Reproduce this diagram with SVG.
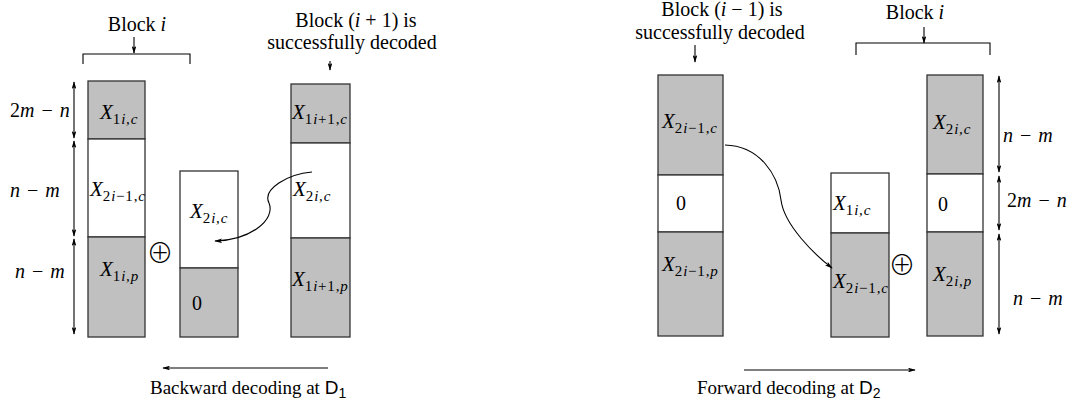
<svg xmlns="http://www.w3.org/2000/svg" width="1081" height="406" viewBox="0 0 1081 406">
<defs>
<marker id="ah" viewBox="0 0 10 6" refX="9" refY="3" markerWidth="8" markerHeight="4.8" markerUnits="userSpaceOnUse" orient="auto-start-reverse">
<path d="M0,0 L10,3 L0,6 L2.5,3 z" fill="#000"/>
</marker>
</defs>
<style>
text{font-family:"Liberation Serif","Times New Roman",serif;fill:#000}
.t{font-size:20px}
.c{font-size:19px}
.m{font-size:21px;font-style:italic}
.u{font-style:normal}
.s{font-size:15px;letter-spacing:0.8px}
.g{fill:#c0c0c0;stroke:#333;stroke-width:1.3}
.w{fill:#fff;stroke:#333;stroke-width:1.3}
.ln{fill:none;stroke:#000;stroke-width:1.1}
.ar{fill:none;stroke:#000;stroke-width:1.1;marker-end:url(#ah);marker-start:url(#ah)}
.a1{fill:none;stroke:#000;stroke-width:1.1;marker-end:url(#ah)}
.sf{font-family:"Liberation Sans",Arial,sans-serif}
.ss{font-size:14px}
.op{font-family:"Noto Sans CJK SC","DejaVu Sans",sans-serif;font-size:27px;font-weight:300}
.d{font-size:20px;word-spacing:2px}
</style>

<!-- LEFT PANEL -->
<g id="title-block-i-left">
<text class="t" x="137" y="31" text-anchor="middle">Block <tspan font-style="italic">i</tspan></text>
</g>
<g id="bracket-left">
<path class="ln" d="M83,64 V54 H190 V64"/>
</g>
<g id="title-block-i1">
<text class="t" x="356" y="27" text-anchor="middle">Block (<tspan font-style="italic">i</tspan> + 1) is</text>
<text class="t" x="352" y="49" text-anchor="middle">successfully decoded</text>
</g>

<g id="col1">
<rect class="g" x="88" y="81" width="57" height="58"/>
<rect class="w" x="88" y="139" width="57" height="98"/>
<rect class="g" x="88" y="237" width="57" height="100"/>
<text class="m" x="100" y="119">X<tspan class="s u" dy="5">1</tspan><tspan class="s">i,c</tspan></text>
<text class="m" x="90" y="196">X<tspan class="s u" dy="5">2</tspan><tspan class="s">i</tspan><tspan class="s u">−1,</tspan><tspan class="s">c</tspan></text>
<text class="m" x="100" y="276">X<tspan class="s u" dy="5">1</tspan><tspan class="s">i,p</tspan></text>
</g>

<g id="col2">
<rect class="w" x="180" y="171" width="58" height="97"/>
<rect class="g" x="180" y="268" width="58" height="69"/>
<text class="m" x="190" y="218">X<tspan class="s u" dy="5">2</tspan><tspan class="s">i,c</tspan></text>
<text class="t" x="192" y="310">0</text>
</g>

<g id="xor-left">
<text class="op" x="160" y="263" text-anchor="middle">⊕</text>
</g>

<g id="col3">
<rect class="g" x="291" y="84" width="59" height="59"/>
<rect class="w" x="291" y="143" width="59" height="95"/>
<rect class="g" x="291" y="238" width="59" height="99"/>
<text class="m" x="292" y="119">X<tspan class="s u" dy="5">1</tspan><tspan class="s">i</tspan><tspan class="s u">+1,</tspan><tspan class="s">c</tspan></text>
<text class="m" x="293" y="196">X<tspan class="s u" dy="5">2</tspan><tspan class="s">i,c</tspan></text>
<text class="m" x="292" y="286">X<tspan class="s u" dy="5">1</tspan><tspan class="s">i</tspan><tspan class="s u">+1,</tspan><tspan class="s">p</tspan></text>
</g>

<g id="dims-left">
<text class="d" x="10" y="117">2<tspan font-style="italic">m</tspan> − <tspan font-style="italic">n</tspan></text>
<text class="d" x="10" y="197"><tspan font-style="italic">n</tspan> − <tspan font-style="italic">m</tspan></text>
<text class="d" x="15" y="278"><tspan font-style="italic">n</tspan> − <tspan font-style="italic">m</tspan></text>
</g>

<!-- RIGHT PANEL -->
<g id="title-block-im1">
<text class="t" x="722" y="16" text-anchor="middle">Block (<tspan font-style="italic">i</tspan> − 1) is</text>
<text class="t" x="720" y="39" text-anchor="middle">successfully decoded</text>
</g>
<g id="title-block-i-right">
<text class="t" x="915" y="19" text-anchor="middle">Block <tspan font-style="italic">i</tspan></text>
</g>
<g id="bracket-right">
<path class="ln" d="M856,55 V43 H990 V55"/>
</g>

<g id="colA">
<rect class="g" x="658" y="75" width="65" height="100"/>
<rect class="w" x="658" y="175" width="65" height="57"/>
<rect class="g" x="658" y="232" width="65" height="104"/>
<text class="m" x="662" y="128">X<tspan class="s u" dy="5">2</tspan><tspan class="s">i</tspan><tspan class="s u">−1,</tspan><tspan class="s">c</tspan></text>
<text class="t" x="676" y="210">0</text>
<text class="m" x="662" y="271">X<tspan class="s u" dy="5">2</tspan><tspan class="s">i</tspan><tspan class="s u">−1,</tspan><tspan class="s">p</tspan></text>
</g>

<g id="colB">
<rect class="w" x="831" y="173" width="58" height="60"/>
<rect class="g" x="831" y="233" width="58" height="104"/>
<text class="m" x="833" y="210">X<tspan class="s u" dy="5">1</tspan><tspan class="s">i,c</tspan></text>
<text class="m" x="833" y="288">X<tspan class="s u" dy="5">2</tspan><tspan class="s">i</tspan><tspan class="s u">−1,</tspan><tspan class="s">c</tspan></text>
</g>

<g id="xor-right">
<text class="op" x="902" y="275" text-anchor="middle">⊕</text>
</g>

<g id="colC">
<rect class="g" x="927" y="75" width="56" height="99"/>
<rect class="w" x="927" y="174" width="56" height="58"/>
<rect class="g" x="927" y="232" width="56" height="104"/>
<text class="m" x="933" y="129">X<tspan class="s u" dy="5">2</tspan><tspan class="s">i,c</tspan></text>
<text class="t" x="938" y="211">0</text>
<text class="m" x="933" y="281">X<tspan class="s u" dy="5">2</tspan><tspan class="s">i,p</tspan></text>
</g>

<g id="dims-right">
<text class="d" x="1003" y="142"><tspan font-style="italic">n</tspan> − <tspan font-style="italic">m</tspan></text>
<text class="d" x="1007" y="207">2<tspan font-style="italic">m</tspan> − <tspan font-style="italic">n</tspan></text>
<text class="d" x="1013" y="305"><tspan font-style="italic">n</tspan> − <tspan font-style="italic">m</tspan></text>
</g>

<g id="captions">
<text class="c" x="150" y="394">Backward decoding at <tspan class="sf">D</tspan><tspan class="sf ss" dy="4">1</tspan></text>
<text class="c" x="697" y="394">Forward decoding at <tspan class="sf">D</tspan><tspan class="sf ss" dy="4">2</tspan></text>
</g>

<g id="connectors">
<path class="a1" d="M134,37 V53"/>
<path class="a1" d="M330,61 V70"/>
<path class="a1" d="M695,45 V62"/>
<path class="a1" d="M924,27 V43"/>
<path class="ar" d="M74,82 V138"/>
<path class="ar" d="M74,141 V236"/>
<path class="ar" d="M74,239 V334"/>
<path class="ar" d="M999,76 V172"/>
<path class="ar" d="M999,176 V230"/>
<path class="ar" d="M999,234 V334"/>
<path class="a1" d="M312,172 C288,174 262,189 269,203 C276,220 250,240 215,241"/>
<path class="a1" d="M725,145 C760,146 778,175 781,200 C784,225 815,255 832,268"/>
<path class="a1" d="M328,368 H163"/>
<path class="a1" d="M744,370 H915"/>
</g>
</svg>
